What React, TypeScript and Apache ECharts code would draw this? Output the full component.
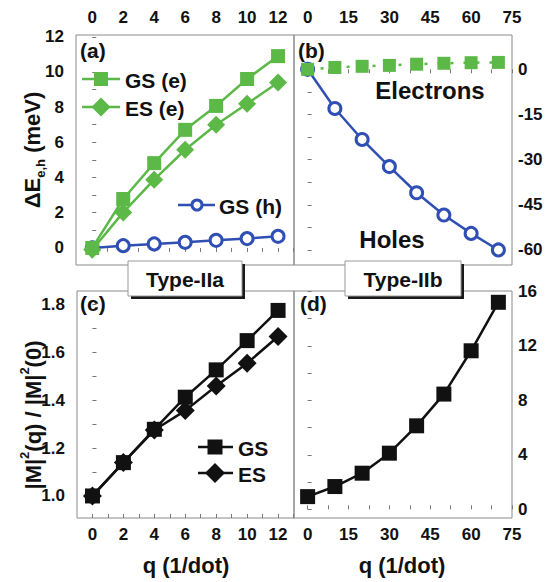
import React, { useEffect, useRef } from "react";
import * as echarts from "echarts";

// ---- data ----
const qA = [0, 2, 4, 6, 8, 10, 12];
const gsElecA = [0, 2.78, 4.82, 6.71, 8.07, 9.6, 10.9];
const esElecA = [-0.1, 2.02, 3.88, 5.58, 7.0, 8.19, 9.4];
const gsHoleA = [0, 0.13, 0.23, 0.32, 0.43, 0.53, 0.66];

const qB = [0, 10, 20, 30, 40, 50, 60, 70];
const elecB = [0, 0.6, 1.0, 1.3, 1.7, 2.0, 2.2, 2.3];
const holeB = [0, -13.0, -23.3, -32.3, -41.0, -48.4, -54.5, -60.0];

const gsC = [1.0, 1.139, 1.278, 1.412, 1.526, 1.648, 1.774];
const esC = [1.0, 1.14, 1.275, 1.356, 1.459, 1.554, 1.665];

const gsD = [0.93, 1.67, 2.65, 4.12, 6.13, 8.46, 11.64, 15.2];

// tick labels
const xLabelsA = [0, 2, 4, 6, 8, 10, 12];
const xTicksA = [0, 1, 2, 3, 4, 5, 6, 7, 8, 9, 10, 11, 12, 13];
const xLabelsB = [0, 15, 30, 45, 60, 75];
const xTicksB = [0, 7.5, 15, 22.5, 30, 37.5, 45, 52.5, 60, 67.5, 75];
const yLabelsA = [0, 2, 4, 6, 8, 10, 12];
const yTicksA = [0, 1, 2, 3, 4, 5, 6, 7, 8, 9, 10, 11, 12];
const yLabelsB = [0, -15, -30, -45, -60];
const yTicksB = [7.5, 0, -7.5, -15, -22.5, -30, -37.5, -45, -52.5, -60];
const yLabelsC = [1.0, 1.2, 1.4, 1.6, 1.8];
const yTicksC = [1.0, 1.1, 1.2, 1.3, 1.4, 1.5, 1.6, 1.7, 1.8];
const yLabelsD = [0, 4, 8, 12, 16];
const yTicksD = [0, 2, 4, 6, 8, 10, 12, 14, 16];

const GREEN = "#5cb947";
const BLUE = "#2f4fb5";
const BLACK = "#111111";
const FONT = "Liberation Sans, Arial, sans-serif";

const pair = (xs: number[], ys: number[]) => xs.map((x, i) => [x, ys[i]]);

export default function App() {
  const ref = useRef<HTMLDivElement>(null);
  useEffect(() => {
    const chart = echarts.init(ref.current!, undefined, { renderer: "svg" });

    const axisBase = (labels: number[], ticks: number[], pos: string, min: number, max: number, margin: number, fmt?: (v: number) => string, inside = true) => ({
      type: "value",
      position: pos,
      min,
      max,
      splitLine: { show: false },
      axisLine: { show: false },
      axisTick: { show: true, inside, length: 4, customValues: ticks, lineStyle: { color: "#777", width: 1 } },
      axisLabel: {
        show: true,
        customValues: labels,
        margin,
        fontFamily: FONT,
        fontWeight: "bold",
        fontSize: 17,
        color: BLACK,
        formatter: fmt ? fmt : (v: number) => String(v),
      },
    });

    const gridBase = { show: true, borderColor: "#8a8a8a", borderWidth: 1, backgroundColor: "transparent", containLabel: false };

    const txt = (x: number, y: number, text: string, size: number, align = "left", extra: any = {}) => ({
      type: "text",
      x,
      y,
      z: 100,
      style: { text, fontFamily: FONT, fontWeight: "bold", fontSize: size, fill: BLACK, align, verticalAlign: "middle" },
      ...extra,
    });

    const diamond = (cx: number, cy: number, r: number, color: string) => ({
      type: "polygon",
      z: 101,
      shape: { points: [[cx, cy - r], [cx + r, cy], [cx, cy + r], [cx - r, cy]] },
      style: { fill: color },
    });
    const square = (cx: number, cy: number, s: number, color: string) => ({
      type: "rect",
      z: 101,
      shape: { x: cx - s / 2, y: cy - s / 2, width: s, height: s },
      style: { fill: color },
    });
    const lline = (x1: number, x2: number, y: number, color: string) => ({
      type: "line",
      z: 100,
      shape: { x1, y1: y, x2, y2: y },
      style: { stroke: color, lineWidth: 2.5 },
    });
    const typeBox = (x: number, y: number, w: number, h: number, label: string) => [
      { type: "rect", z: 110, shape: { x: x + 3, y: y + 3, width: w, height: h }, style: { fill: "#1a1a1a" } },
      { type: "rect", z: 111, shape: { x, y, width: w, height: h }, style: { fill: "#ffffff", stroke: "#999", lineWidth: 1 } },
      { type: "text", z: 112, x: x + w / 2, y: y + h / 2 + 1, style: { text: label, fontFamily: FONT, fontWeight: "bold", fontSize: 21, fill: BLACK, align: "center", verticalAlign: "middle" } },
    ];

    const option: any = {
      animation: false,
      backgroundColor: "#ffffff",
      grid: [
        { ...gridBase, left: 76, top: 35, width: 218, height: 230 },
        { ...gridBase, left: 294, top: 35, width: 218, height: 230 },
        { ...gridBase, left: 77, top: 291, width: 217, height: 227 },
        { ...gridBase, left: 294, top: 291, width: 218, height: 227 },
      ],
      xAxis: [
        { ...axisBase(xLabelsA, xTicksA, "top", -1.05, 13.03, 9), gridIndex: 0 },
        { ...axisBase(xLabelsB, xTicksB, "top", -5, 75, 9), gridIndex: 1 },
        { ...axisBase(xLabelsA, xTicksA, "bottom", -1.0, 13.03, 8), gridIndex: 2 },
        { ...axisBase(xLabelsB, xTicksB, "bottom", -5, 75, 8), gridIndex: 3 },
      ],
      yAxis: [
        { ...axisBase(yLabelsA, yTicksA, "left", -0.97, 12.1, 12), gridIndex: 0 },
        { ...axisBase(yLabelsB, yTicksB, "right", -65.0, 11.4, 6, undefined, false), gridIndex: 1 },
        { ...axisBase(yLabelsC, yTicksC, "left", 0.908, 1.855, 12, (v: number) => v.toFixed(1)), gridIndex: 2 },
        { ...axisBase(yLabelsD, yTicksD, "right", -0.64, 16.03, 6, undefined, false), gridIndex: 3 },
      ],
      series: [
        {
          type: "line", name: "GS (h)", xAxisIndex: 0, yAxisIndex: 0, data: pair(qA, gsHoleA),
          symbol: "circle", symbolSize: 12, lineStyle: { color: BLUE, width: 2.5 },
          itemStyle: { color: "#ffffff", borderColor: BLUE, borderWidth: 3 },
        },
        {
          type: "line", name: "ES (e)", xAxisIndex: 0, yAxisIndex: 0, data: pair(qA, esElecA),
          symbol: "diamond", symbolSize: 18, lineStyle: { color: GREEN, width: 2.5 },
          itemStyle: { color: GREEN },
        },
        {
          type: "line", name: "GS (e)", xAxisIndex: 0, yAxisIndex: 0, data: pair(qA, gsElecA),
          symbol: "rect", symbolSize: 14, lineStyle: { color: GREEN, width: 2.5 },
          itemStyle: { color: GREEN },
        },
        {
          type: "line", name: "Holes", xAxisIndex: 1, yAxisIndex: 1, data: pair(qB, holeB),
          symbol: "circle", symbolSize: 12, lineStyle: { color: BLUE, width: 2.5 },
          itemStyle: { color: "#ffffff", borderColor: BLUE, borderWidth: 3 },
        },
        {
          type: "line", name: "Electrons", xAxisIndex: 1, yAxisIndex: 1, data: pair(qB, elecB),
          symbol: "rect", symbolSize: 13, lineStyle: { color: GREEN, width: 2.5, type: [3, 10] },
          itemStyle: { color: GREEN },
        },
        {
          type: "line", name: "GS", xAxisIndex: 2, yAxisIndex: 2, data: pair(qA, gsC),
          symbol: "rect", symbolSize: 15, lineStyle: { color: BLACK, width: 2.5 },
          itemStyle: { color: BLACK },
        },
        {
          type: "line", name: "ES", xAxisIndex: 2, yAxisIndex: 2, data: pair(qA, esC),
          symbol: "diamond", symbolSize: 19, lineStyle: { color: BLACK, width: 2.5 },
          itemStyle: { color: BLACK },
        },
        {
          type: "line", name: "Type-IIb", xAxisIndex: 3, yAxisIndex: 3, data: pair(qB, gsD),
          symbol: "rect", symbolSize: 15, lineStyle: { color: BLACK, width: 2.5 },
          itemStyle: { color: BLACK },
        },
      ],
      graphic: [
        txt(80, 50, "(a)", 21),
        txt(298, 50, "(b)", 21),
        txt(80, 303, "(c)", 21),
        txt(300, 303, "(d)", 21),
        // legend (a)
        lline(82, 120, 79, GREEN), square(101, 79, 14, GREEN), txt(125, 80, "GS (e)", 21),
        lline(82, 120, 107, GREEN), diamond(101, 107, 9.5, GREEN), txt(125, 108, "ES (e)", 21),
        lline(178, 215, 205, BLUE),
        { type: "circle", z: 101, shape: { cx: 197, cy: 205, r: 5 }, style: { fill: "#fff", stroke: BLUE, lineWidth: 3 } },
        txt(219, 206, "GS (h)", 21),
        // panel b labels
        txt(430, 90, "Electrons", 24, "center"),
        txt(392, 239, "Holes", 24, "center"),
        // legend (c)
        lline(198, 233, 447, BLACK), square(215, 447, 15, BLACK), txt(238, 448, "GS", 21),
        lline(198, 233, 473, BLACK), diamond(215, 473, 10, BLACK), txt(238, 474, "ES", 21),
        // boxes
        ...typeBox(128, 261, 114, 35, "Type-IIa"),
        ...typeBox(345, 261, 116, 35, "Type-IIb"),
        // axis titles
        txt(186, 565, "q (1/dot)", 22, "center"),
        txt(402, 565, "q (1/dot)", 22, "center"),
        {
          type: "text", z: 100, x: 32, y: 150, rotation: Math.PI / 2,
          style: {
            text: "{m|ΔE}{s|e,h}{m| (meV)}",
            fontFamily: FONT, fontWeight: "bold", fill: BLACK, align: "center", verticalAlign: "middle",
            rich: {
              m: { fontFamily: FONT, fontWeight: "bold", fontSize: 22, lineHeight: 30, verticalAlign: "middle", fill: BLACK },
              s: { fontFamily: FONT, fontWeight: "bold", fontSize: 13, lineHeight: 13, verticalAlign: "bottom", fill: BLACK },
            },
          },
        },
        {
          type: "text", z: 100, x: 33, y: 415, rotation: Math.PI / 2,
          style: {
            text: "{m||M|}{p|2}{m|(q) / |M|}{p|2}{m|(0)}",
            fontFamily: FONT, fontWeight: "bold", fill: BLACK, align: "center", verticalAlign: "middle",
            rich: {
              m: { fontFamily: FONT, fontWeight: "bold", fontSize: 22, lineHeight: 30, verticalAlign: "middle", fill: BLACK },
              p: { fontFamily: FONT, fontWeight: "bold", fontSize: 13, lineHeight: 13, verticalAlign: "top", fill: BLACK },
            },
          },
        },
      ],
    };
    chart.setOption(option);
    return () => chart.dispose();
  }, []);
  return <div ref={ref} style={{ position: "fixed", left: 0, top: 0, width: 560, height: 582 }} />;
}
